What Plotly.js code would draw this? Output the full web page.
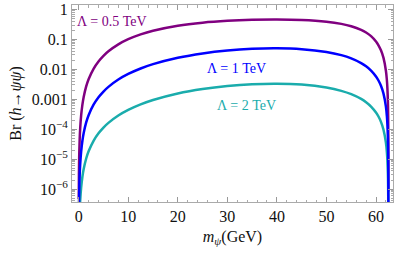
<!DOCTYPE html>
<html><head><meta charset="utf-8">
<script src="https://cdn.plot.ly/plotly-3.0.1.min.js"></script>
<style>html,body{margin:0;padding:0;background:#fff}#c{width:399px;height:254px}</style>
</head><body><div id="c"></div>
<script>
// fermion mass m_psi (GeV)
const mPsi = [0.02,0.05,0.1,0.2,0.3,0.5,0.75,1,1.5,2,3,4,5,6,8,10,12.5,15,20,25,30,35,40,45,50,53,55,57,58,59,60,60.5,61,61.5,62,62.2,62.3,62.4,62.45,62.48,62.49,62.495,62.499];
// Br(h -> psi psi) for Lambda = 0.5 TeV
const br05 = [4.67e-7,2.92e-6,1.168e-5,4.671e-5,1.051e-4,2.918e-4,6.563e-4,1.166e-3,2.618e-3,4.642e-3,0.010365,0.018231,0.028101,0.039809,0.067952,0.100978,0.146484,0.193792,0.284262,0.359747,0.415053,0.44857,0.458757,0.441444,0.386724,0.32811,0.27458,0.207513,0.168865,0.127407,0.084487,0.063276,0.042947,0.024371,8.95e-3,4.216e-3,2.31e-3,8.213e-4,2.912e-4,7.38e-5,2.61e-5,9.23e-6,8.26e-7];
// Lambda = 1 TeV
const br1 = [2.92e-8,1.825e-7,7.3e-7,2.919e-6,6.568e-6,1.8246e-5,4.104e-5,7.295e-5,1.6404e-4,2.9141e-4,6.542e-4,1.1593e-3,1.8038e-3,2.5845e-3,4.536e-3,6.9711e-3,0.010612,0.014801,0.024225,0.033927,0.042464,0.048383,0.05031,0.047071,0.037918,0.029617,0.02311,0.016102,0.012539,9.043e-3,5.7346e-3,4.2042e-3,2.7968e-3,1.5589e-3,5.641e-4,2.6463e-4,1.447e-4,5.137e-5,1.821e-5,4.61e-6,1.63e-6,5.77e-7,5.16e-8];
// Lambda = 2 TeV
const br2 = [1.82e-9,1.14e-8,4.56e-8,1.823e-7,4.102e-7,1.1395e-6,2.563e-6,4.556e-6,1.0247e-5,1.8204e-5,4.088e-5,7.248e-5,1.1286e-4,1.6182e-4,2.8458e-4,4.3823e-4,6.695e-4,9.374e-4,1.5481e-3,2.1884e-3,2.762e-3,3.1653e-3,3.2975e-3,3.0754e-3,2.4554e-3,1.9025e-3,1.4752e-3,1.0211e-3,7.924e-4,5.696e-4,3.6008e-4,2.6367e-4,1.7516e-4,9.751e-5,3.525e-5,1.6527e-5,9.037e-6,3.208e-6,1.137e-6,2.88e-7,1.02e-7,3.6e-8,3.2e-9];
const xTicks = [0,10,20,30,40,50,60];
const yTickVals = [1,0.1,0.01,0.001,1e-4,1e-5,1e-6];
const yTickText = ['1','0.1','0.01','0.001','10<sup>−4</sup>','10<sup>−5</sup>','10<sup>−6</sup>'];
const labels = ['Λ = 0.5 TeV','Λ = 1 TeV','Λ = 2 TeV'];

const cPurple = '#800080', cBlue = '#0000ff', cCyan = '#1aacac';
const yMinor = [];
for (let e = -7; e <= 0; e++) for (let k = 2; k <= 9; k++) yMinor.push(k * Math.pow(10, e));

const traces = [
  {x: mPsi, y: br05, mode: 'lines', line: {color: cPurple, width: 2.5, shape: 'spline'}},
  {x: mPsi, y: br2, mode: 'lines', line: {color: cCyan, width: 2.5, shape: 'spline'}},
  {x: mPsi, y: br1, mode: 'lines', line: {color: cBlue, width: 2.5, shape: 'spline'}}
];
const fam = 'Liberation Serif, Times New Roman, serif';
const font = {family: fam, size: 15, color: '#111'};
const layout = {
  width: 399, height: 254,
  margin: {l: 72, r: 6, t: 5, b: 52},
  showlegend: false,
  paper_bgcolor: '#fff', plot_bgcolor: '#fff',
  font: font,
  xaxis: {
    range: [-1.35, 63.43], tickvals: xTicks, ticks: 'inside', ticklen: 5, tickcolor: '#999',
    showline: true, linecolor: '#aaa', linewidth: 1, mirror: 'ticks', showgrid: false, zeroline: false,
    tickfont: {family: fam, size: 16, color: '#111'},
    minor: {dtick: 2, tick0: 0, ticks: 'inside', ticklen: 2.5, tickcolor: '#aaa', showgrid: false},
    title: {text: '<i>m</i><sub><i>ψ</i></sub>(GeV)', font: {family: fam, size: 16, color: '#111'}, standoff: 6}
  },
  yaxis: {
    type: 'log', range: [-6.434, 0.147], tickvals: yTickVals, ticktext: yTickText,
    ticks: 'inside', ticklen: 5, tickcolor: '#999',
    showline: true, linecolor: '#aaa', linewidth: 1, mirror: 'ticks', showgrid: false, zeroline: false,
    tickfont: {family: fam, size: 16, color: '#111'},
    minor: {tickvals: yMinor, ticks: 'inside', ticklen: 2.5, tickcolor: '#aaa', showgrid: false},
    title: {text: 'Br (<i>h</i>→<i>ψψ</i>)', font: {family: fam, size: 16, color: '#111'}, standoff: 6}
  },
  annotations: [
    {x: 6.8, y: -0.404, text: labels[0], showarrow: false, font: {family: fam, size: 14, color: cPurple}},
    {x: 31.85, y: -1.958, text: labels[1], showarrow: false, font: {family: fam, size: 14, color: cBlue}},
    {x: 33.8, y: -3.194, text: labels[2], showarrow: false, font: {family: fam, size: 14, color: cCyan}}
  ]
};
Plotly.newPlot('c', traces, layout, {displayModeBar: false, staticPlot: true});
</script></body></html>
